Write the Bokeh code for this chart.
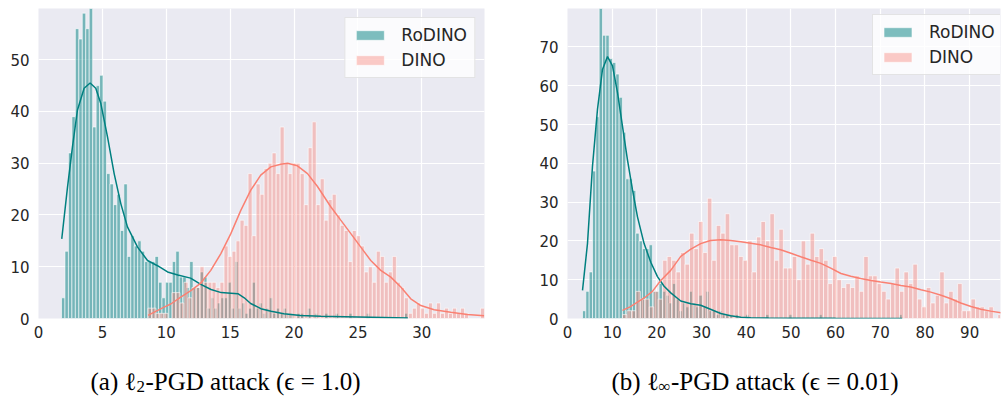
import numpy as np
from bokeh.plotting import figure
from bokeh.models import Legend, LegendItem, SingleIntervalTicker, Range1d
from bokeh.layouts import row, column
from bokeh.core.properties import value
from bokeh.embed import file_html
from bokeh.resources import INLINE

# ---------------- data: (a) l2-PGD attack ----------------
l2_rodino_bin_start = 1.8
l2_rodino_bin_width = 0.271
l2_rodino_counts = [
    4, 13, 32, 39, 56, 54, 59, 56, 61, 37,
    45, 47, 42, 28, 26, 22, 24, 17, 26, 12,
    16, 14, 15, 13, 11, 11, 11, 12, 7, 4,
    7, 7, 11, 13, 8, 8, 6, 11, 6, 6,
    9, 8, 2, 4, 2, 3, 4, 4, 7, 2,
    11, 2, 3, 1, 2, 7, 2, 3, 1, 2,
    4, 1, 2, 1, 2, 1, 1, 0, 1, 1,
    0, 2, 0, 1, 0, 0, 1, 0, 0, 1,
    0, 0, 0, 1, 0, 0, 0, 0, 1, 0,
    0, 0, 0, 0, 0, 0, 0, 0, 0, 1,
]
l2_dino_bin_start = 8.56
l2_dino_bin_width = 0.3136
l2_dino_counts = [
    2, 2, 1, 1, 1, 0, 5, 5, 3, 7,
    4, 6, 6, 10, 7, 7, 7, 6, 7, 14,
    12, 13, 15, 19, 18, 28, 16, 26, 24, 29,
    30, 32, 28, 37, 30, 28, 30, 30, 28, 22,
    33, 38, 22, 27, 19, 23, 24, 20, 18, 17,
    11, 17, 16, 14, 9, 10, 7, 13, 12, 7,
    9, 12, 7, 6, 4, 1, 2, 3, 2, 1,
    3, 1, 3, 1, 2, 1, 2, 1, 2, 1,
    0, 0, 0, 2,
]
l2_rodino_kde_x = [1.82, 2.27, 2.66, 3.05, 3.57, 4.04, 4.48, 4.87, 5.40, 5.92, 6.44, 6.96,
                   7.75, 8.53, 9.31, 10.1, 10.9, 11.9, 12.7, 13.5, 14.3, 15.05, 15.6, 16.1,
                   16.6, 17.4, 18.2, 19.2, 20.5, 22.1, 24.0, 26.0, 28.9]
l2_rodino_kde_y = [15.4, 25.4, 33.2, 40.3, 44.5, 45.5, 44.5, 41.6, 35.1, 28.0, 22.2, 17.7,
                   13.8, 11.2, 10.2, 9.0, 8.4, 7.8, 6.6, 5.6, 5.0, 4.9, 4.8, 4.0,
                   2.9, 1.9, 1.4, 0.9, 0.6, 0.45, 0.35, 0.25, 0.1]
l2_dino_kde_x = [8.58, 8.79, 9.83, 10.35, 11.1, 11.92, 12.70, 13.48, 14.26, 15.05, 15.83,
                 16.61, 17.39, 18.18, 18.96, 19.48, 20.26, 21.05, 21.83, 22.87, 23.65,
                 24.44, 25.22, 26.0, 26.78, 27.57, 28.35, 29.13, 29.92, 30.96, 32.26,
                 33.57, 34.87]
l2_dino_kde_y = [0.6, 0.9, 2.2, 2.8, 4.1, 5.4, 6.85, 9.3, 12.5, 16.4, 20.9,
                 24.8, 27.7, 29.3, 29.8, 30.0, 29.5, 28.0, 25.5, 21.6, 19.0,
                 16.4, 13.8, 11.2, 9.3, 8.0, 6.1, 3.8, 2.5, 1.7, 1.2,
                 0.78, 0.52]

# ---------------- data: (b) linf-PGD attack ----------------
linf_rodino_bin_start = 3.36
linf_rodino_bin_width = 0.745
linf_rodino_counts = [
    2, 7, 12, 38, 52, 83, 73, 73, 67, 66,
    63, 57, 48, 36, 36, 33, 22, 20, 18, 18,
    19, 7, 7, 9, 7, 6, 4, 9, 5, 2,
    4, 3, 7, 4, 3, 6, 3, 7, 2, 2,
    1, 2, 1, 1, 1, 0, 1, 0, 0, 1,
    0, 0, 0, 0, 0, 1, 0, 0, 0, 0,
    0, 0, 1, 0, 0, 0, 0, 0, 0, 0,
    0, 1, 0, 0, 0, 0, 0, 0, 0, 0,
    0, 0, 0, 0, 0, 0, 0, 0, 0, 0,
    0, 0, 0, 0, 0, 1,
]
linf_dino_bin_start = 12.3
linf_dino_bin_width = 1.0
linf_dino_counts = [
    1, 2, 2, 7, 5, 5, 3, 7, 5, 15,
    16, 15, 12, 17, 14, 22, 18, 25, 17, 31,
    15, 24, 22, 27, 19, 19, 16, 15, 20, 12,
    21, 25, 20, 27, 15, 23, 13, 13, 16, 10,
    20, 14, 22, 16, 18, 15, 9, 16, 10, 8,
    9, 8, 11, 7, 16, 11, 11, 9, 7, 5,
    9, 13, 7, 12, 9, 14, 5, 3, 8, 4,
    6, 12, 4, 7, 5, 9, 2, 2, 5, 3,
    3, 2, 3, 0, 1,
]
linf_rodino_kde_x = [3.36, 4.47, 5.59, 6.71, 7.83, 8.95, 10.07, 11.19, 12.30, 13.42, 14.54,
                     15.66, 17.14, 18.64, 20.13, 21.62, 23.11, 25.35, 27.6, 29.8, 32.0,
                     34.3, 36.5, 38.8, 41.0, 45.0, 50.0, 60.0, 70.0, 74.9]
linf_rodino_kde_y = [7.25, 19.3, 39.2, 53.9, 64.2, 67.5, 65.1, 58.2, 49.6, 40.9, 33.2,
                     26.2, 19.3, 14.5, 10.8, 8.3, 6.6, 4.5, 3.8, 3.4, 2.4,
                     1.3, 0.7, 0.35, 0.2, 0.12, 0.08, 0.05, 0.03, 0.02]
linf_dino_kde_x = [12.3, 14.0, 15.66, 17.5, 19.0, 20.87, 23.1, 25.35, 27.6, 29.8, 32.0,
                   34.3, 36.5, 38.8, 41.0, 43.2, 45.5, 47.7, 50.0, 52.2, 54.5, 56.7,
                   58.9, 61.2, 63.4, 65.6, 67.9, 70.1, 72.4, 74.6, 76.8, 79.1, 81.3,
                   83.6, 85.8, 88.0, 90.3, 92.5, 94.7, 97.4]
linf_dino_kde_y = [2.1, 3.0, 4.2, 5.6, 7.0, 9.8, 12.4, 16.0, 17.9, 19.3, 20.1,
                   20.3, 20.1, 19.8, 19.4, 19.0, 18.3, 17.7, 16.8, 15.9, 15.0, 14.2,
                   13.0, 11.6, 10.9, 10.3, 9.8, 9.4, 9.0, 8.5, 8.1, 7.4, 6.8,
                   6.0, 5.1, 4.0, 3.1, 2.4, 1.9, 1.4]

series_labels = ["RoDINO", "DINO"]
caption_a = ["(a) \u2113", "2", "-PGD attack (\u03f5 = 1.0)"]
caption_b = ["(b) \u2113", "\u221e", "-PGD attack (\u03f5 = 0.01)"]

TEAL = "#008080"
SALMON = "#fa8072"
TICK_COLOR = "#262626"
CAPTION_FONT = "Liberation Serif"


def bin_centers(start, width, counts):
    return start + width * (np.arange(len(counts)) + 0.5)


def make_panel(width, border_left, border_right, xr, yr, xtick, ytick):
    p = figure(width=width, height=345, x_range=Range1d(*xr), y_range=Range1d(*yr),
               output_backend="svg", toolbar_location=None,
               min_border_left=border_left, min_border_right=border_right,
               min_border_top=8, min_border_bottom=27)
    p.background_fill_color = "#eaeaf2"
    p.border_fill_color = "white"
    p.outline_line_color = None
    p.xaxis.ticker = SingleIntervalTicker(interval=xtick)
    p.yaxis.ticker = SingleIntervalTicker(interval=ytick)
    for ax in (p.xaxis[0], p.yaxis[0]):
        ax.axis_line_color = None
        ax.major_tick_line_color = None
        ax.minor_tick_line_color = None
        ax.major_tick_out = 0
        ax.major_tick_in = 0
        ax.major_label_text_font = "DejaVu Sans"
        ax.major_label_text_font_size = "15px"
        ax.major_label_text_color = TICK_COLOR
    p.xaxis[0].major_label_standoff = 3
    p.yaxis[0].major_label_standoff = 5
    p.xgrid.ticker = p.xaxis[0].ticker
    p.ygrid.ticker = p.yaxis[0].ticker
    p.grid.grid_line_color = "white"
    p.grid.grid_line_width = 1.2
    return p


def add_hist(p, start, width, counts, color, alpha):
    return p.vbar(x=bin_centers(start, width, counts), top=counts, width=width, bottom=0,
                  fill_color=color, fill_alpha=alpha, line_color="white",
                  line_width=0.8, line_alpha=0.75)


def style_legend(leg):
    leg.label_text_font = "DejaVu Sans"
    leg.label_text_font_size = "17px"
    leg.label_text_color = TICK_COLOR
    leg.glyph_width = 35
    leg.glyph_height = 12
    leg.label_standoff = 14
    leg.label_height = 20
    leg.padding = 7
    leg.spacing = 5
    leg.margin = 9
    leg.border_line_color = "#cccccc"
    leg.border_line_width = 1
    leg.background_fill_color = "white"
    leg.background_fill_alpha = 0.8


# ---------------- panel (a) ----------------
p1 = make_panel(510, 38, 26, (0.0, 34.9), (0, 59.9), 5, 10)
r1a = add_hist(p1, l2_rodino_bin_start, l2_rodino_bin_width, l2_rodino_counts, TEAL, 0.5)
r1b = add_hist(p1, l2_dino_bin_start, l2_dino_bin_width, l2_dino_counts, SALMON, 0.4)
p1.line(l2_rodino_kde_x, l2_rodino_kde_y, line_color=TEAL, line_width=1.5)
p1.line(l2_dino_kde_x, l2_dino_kde_y, line_color=SALMON, line_width=1.5)
leg1 = Legend(items=[LegendItem(label=series_labels[0], renderers=[r1a]),
                     LegendItem(label=series_labels[1], renderers=[r1b])],
              location="top_right")
style_legend(leg1)
p1.add_layout(leg1)

# ---------------- panel (b) ----------------
p2 = make_panel(492, 57, 2, (0.0, 96.9), (0, 79.9), 10, 10)
r2a = add_hist(p2, linf_rodino_bin_start, linf_rodino_bin_width, linf_rodino_counts, TEAL, 0.5)
r2b = add_hist(p2, linf_dino_bin_start, linf_dino_bin_width, linf_dino_counts, SALMON, 0.4)
p2.line(linf_rodino_kde_x, linf_rodino_kde_y, line_color=TEAL, line_width=1.5)
p2.line(linf_dino_kde_x, linf_dino_kde_y, line_color=SALMON, line_width=1.5)
leg2 = Legend(items=[LegendItem(label=series_labels[0], renderers=[r2a]),
                     LegendItem(label=series_labels[1], renderers=[r2b])],
              location=(305, 243))
style_legend(leg2)
p2.add_layout(leg2)

# ---------------- captions (a pixel-unit strip below both panels) ----------------
cap = figure(width=1002, height=55, x_range=Range1d(0, 1002), y_range=Range1d(0, 55),
             output_backend="svg", toolbar_location=None,
             min_border_left=0, min_border_right=0, min_border_top=0, min_border_bottom=0)
cap.axis.visible = False
cap.grid.visible = False
cap.outline_line_color = None
cap.background_fill_color = "white"
cap.border_fill_color = "white"


def caption(x0, parts, w_prefix, w_sub):
    cap.text(x=[x0], y=[19], text=[parts[0]], text_font=value(CAPTION_FONT),
             text_font_size=value("25px"), text_baseline="alphabetic", text_align="left",
             text_color="black")
    cap.text(x=[x0 + w_prefix], y=[14], text=[parts[1]], text_font=value(CAPTION_FONT),
             text_font_size=value("17px"), text_baseline="alphabetic", text_align="left",
             text_color="black")
    cap.text(x=[x0 + w_prefix + w_sub], y=[19], text=[parts[2]], text_font=value(CAPTION_FONT),
             text_font_size=value("25px"), text_baseline="alphabetic", text_align="left",
             text_color="black")


caption(90, caption_a, 46, 9)
caption(611, caption_b, 47, 12.5)

layout = column(row(p1, p2, spacing=0), cap, spacing=0)
open("out.html", "w").write(file_html(layout, INLINE))
